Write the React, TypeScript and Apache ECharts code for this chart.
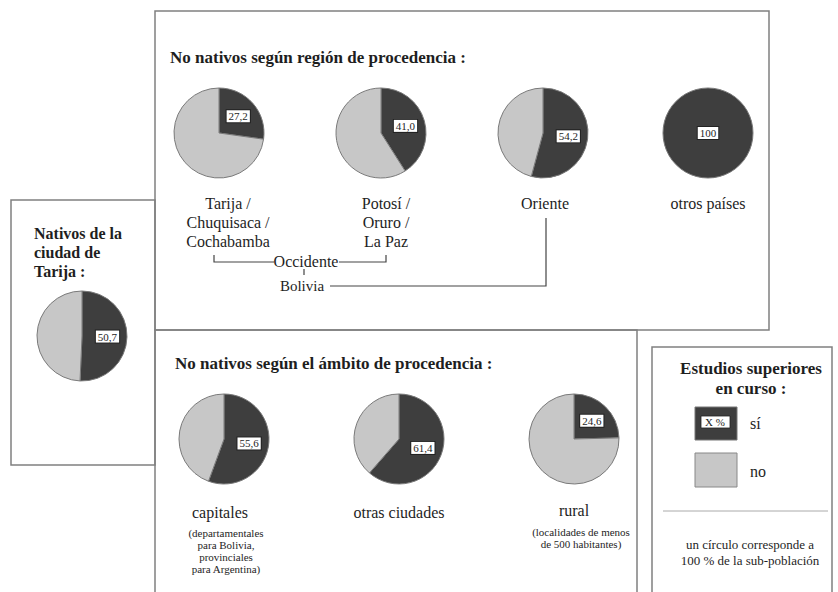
import React, { useEffect, useRef } from "react";
import * as echarts from "echarts";

// ---- data ----
const regionNames = ["Tarija /\nChuquisaca /\nCochabamba", "Potosí /\nOruro /\nLa Paz", "Oriente", "otros países"];
const regionSi = [27.2, 41.0, 54.2, 100];
const regionNo = [72.8, 59.0, 45.8, 0];

const ambitoNames = ["capitales", "otras ciudades", "rural"];
const ambitoNotes = ["(departamentales\npara Bolivia,\nprovinciales\npara Argentina)", "", "(localidades de menos\nde 500 habitantes)"];
const ambitoSi = [55.6, 61.4, 24.6];
const ambitoNo = [44.4, 38.6, 75.4];

const nativosSi = [50.7];
const nativosNo = [49.3];

const legendItems = ["sí", "no"];

const FONT = "Liberation Serif";
const DARK = "#3e3e3e";
const LIGHT = "#c7c7c7";
const FRAME = "#808080";
const TXT = "#1e1e1e";

const fmt = (v: number) => (v === 100 ? "100" : v.toFixed(1).replace(".", ","));

function makePie(center: number[], si: number, no: number, centerLabel: boolean) {
  return {
    type: "pie",
    center,
    radius: 45,
    startAngle: 90,
    clockwise: true,
    silent: true,
    labelLine: { show: false },
    itemStyle: { borderColor: "#7a7a7a", borderWidth: 1 },
    data: [
      {
        value: si,
        name: "sí",
        itemStyle: { color: DARK },
        label: {
          show: true,
          position: centerLabel ? "center" : "inside",
          formatter: () => fmt(si),
          fontFamily: FONT,
          fontSize: 11,
          color: TXT,
          backgroundColor: "#fff",
          borderColor: "#222",
          borderWidth: 1,
          padding: [1, 2, 0, 2],
        },
      },
      {
        value: no,
        name: "no",
        itemStyle: { color: LIGHT, borderWidth: no === 0 ? 0 : 1 },
        label: { show: false },
      },
    ],
  };
}

export default function App() {
  const ref = useRef<HTMLDivElement>(null);
  useEffect(() => {
    if (!ref.current) return;
    const chart = echarts.init(ref.current, undefined, { renderer: "svg" });

    const regionCenters = [[219, 133], [381, 133], [543, 133], [708, 133]];
    const regionLabelX = [228, 386, 545, 708];
    const ambitoCenters = [[224, 439], [399, 439], [574, 439]];
    const ambitoLabelX = [220, 399, 574];
    const ambitoNoteX = [226, 399, 581];

    const series: any[] = [];
    regionSi.forEach((v, i) => series.push(makePie(regionCenters[i], v, regionNo[i], v === 100)));
    ambitoSi.forEach((v, i) => series.push(makePie(ambitoCenters[i], v, ambitoNo[i], false)));
    nativosSi.forEach((v, i) => series.push(makePie([82, 336], v, nativosNo[i], false)));

    const frame = (x: number, y: number, w: number, h: number) => ({
      type: "rect",
      z: 0,
      shape: { x, y, width: w, height: h },
      style: { fill: "transparent", stroke: FRAME, lineWidth: 1.5 },
    });
    const text = (t: string, x: number, y: number, size: number, opts: any = {}) => ({
      type: "text",
      z: 5,
      x,
      y,
      style: {
        text: t,
        fontFamily: FONT,
        fontSize: size,
        fontWeight: opts.bold ? "bold" : "normal",
        fill: TXT,
        textAlign: opts.align || "center",
        textVerticalAlign: opts.va || "top",
        lineHeight: opts.lh || Math.round(size * 1.2),
      },
    });
    const line = (pts: number[][]) => ({
      type: "polyline",
      z: 5,
      shape: { points: pts },
      style: { stroke: "#444", lineWidth: 1.2, fill: "none" },
    });

    const graphics: any[] = [
      frame(155, 11, 614, 319),
      frame(11, 200, 144, 265),
      frame(155, 330, 482, 275),
      frame(652, 347, 180, 260),
      text("No nativos según región de procedencia :", 170, 57, 17, { bold: true, align: "left", va: "middle" }),
      text("Nativos de la\nciudad de\nTarija :", 34, 224, 16, { bold: true, align: "left", lh: 19 }),
      text("No nativos según el ámbito de procedencia :", 175, 363, 17, { bold: true, align: "left", va: "middle" }),
      // brackets
      line([[214, 255], [214, 262], [274, 262]]),
      line([[339, 262], [386, 262], [386, 255]]),
      text("Occidente", 306, 261, 16, { va: "middle" }),
      line([[304, 269], [304, 275]]),
      text("Bolivia", 302, 286, 15, { va: "middle" }),
      line([[330, 286], [546, 286], [546, 218]]),
      // legend
      text("Estudios superiores\nen curso :", 751, 358, 17, { bold: true, lh: 20 }),
      { type: "rect", z: 5, shape: { x: 695, y: 407, width: 42, height: 33 }, style: { fill: DARK, stroke: "#777", lineWidth: 1 } },
      { type: "rect", z: 6, shape: { x: 701, y: 416, width: 29, height: 12 }, style: { fill: "#fff", stroke: "#222", lineWidth: 0.8 } },
      { ...text("X %", 715, 422, 11, { va: "middle" }), z: 7 },
      text(legendItems[0], 750, 423, 16, { align: "left", va: "middle" }),
      { type: "rect", z: 5, shape: { x: 695, y: 453, width: 42, height: 34 }, style: { fill: LIGHT, stroke: "#888", lineWidth: 1 } },
      text(legendItems[1], 750, 471, 16, { align: "left", va: "middle" }),
      { type: "line", z: 5, shape: { x1: 663, y1: 511, x2: 828, y2: 511 }, style: { stroke: "#aaa", lineWidth: 1 } },
      text("un círculo corresponde a\n100 % de la sub-población", 750, 536, 13, { lh: 16 }),
    ];
    regionNames.forEach((n, i) => graphics.push(text(n, regionLabelX[i], 194, 16, { lh: 19 })));
    ambitoNames.forEach((n, i) => {
      graphics.push(text(n, ambitoLabelX[i], i === 2 ? 501 : 503, 16, { lh: 18 }));
      if (ambitoNotes[i]) graphics.push(text(ambitoNotes[i], ambitoNoteX[i], i === 2 ? 526 : 527, 11, { lh: 12 }));
    });

    chart.setOption({
      animation: false,
      backgroundColor: "#fff",
      series,
      graphic: { elements: graphics },
    });
    return () => chart.dispose();
  }, []);
  return <div ref={ref} style={{ position: "fixed", left: 0, top: 0, width: 838, height: 592 }} />;
}
